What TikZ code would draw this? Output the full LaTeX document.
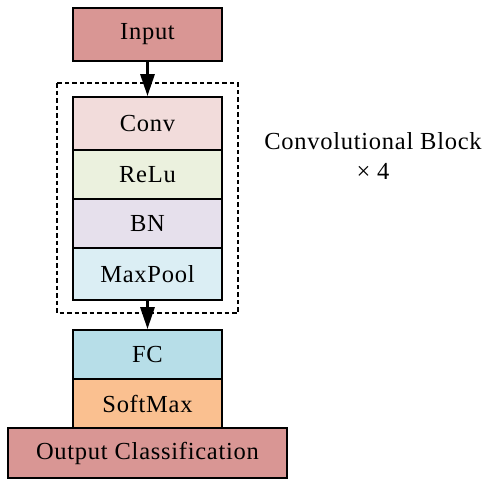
\documentclass[tikz,border=0pt]{standalone}
\usepackage{fontspec}
\setmainfont{Liberation Serif}[LetterSpace=3]
\usetikzlibrary{arrows.meta}
\definecolor{inred}{HTML}{D99694}
\definecolor{convc}{HTML}{F2DCDB}
\definecolor{reluc}{HTML}{EBF1DE}
\definecolor{bnc}{HTML}{E6E0EC}
\definecolor{poolc}{HTML}{DBEEF4}
\definecolor{fcc}{HTML}{B7DEE8}
\definecolor{smc}{HTML}{FAC090}
\tikzset{
  layer/.style={draw=black, line width=1.8pt, inner sep=0pt, minimum width=149pt,
    font=\fontsize{24.5}{28}\selectfont},
  flow/.style={line width=3pt, -{Triangle[width=14pt,length=22pt]}},
  blockframe/.style={draw=black, line width=2pt, dash pattern=on 4.5pt off 3pt}
}
\begin{document}
\begin{tikzpicture}[x=1pt,y=-1pt]
\useasboundingbox (0,0) rectangle (488,480);
% input and output ends
\node[layer, fill=inred, minimum height=53pt] (input) at (147.5,34.5) {Input};
\node[layer, fill=inred, minimum width=279pt, minimum height=50pt] (output) at (147.5,453) {Output Classification};
% repeated convolutional block
\draw[blockframe] (57,83) rectangle (238,313);
\node[layer, fill=convc, minimum height=53pt] (conv) at (147.5,123.5) {Conv};
\node[layer, fill=reluc, minimum height=49pt] (relu) at (147.5,174.5) {ReLu};
\node[layer, fill=bnc, minimum height=49pt] (bn) at (147.5,223.5) {BN};
\node[layer, fill=poolc, minimum height=52pt] (pool) at (147.5,274) {MaxPool};
% classifier head
\node[layer, fill=fcc, minimum height=49pt] (fc) at (147.5,354.5) {FC};
\node[layer, fill=smc, minimum height=49pt] (sm) at (147.5,403.5) {SoftMax};
\node[align=center, font=\fontsize{24.5}{30}\selectfont] (lbl) at (373,156) {Convolutional Block\\× 4};
\draw[flow] (input.south) -- (conv.north);
\draw[flow] (pool.south) -- (fc.north);
\end{tikzpicture}
\end{document}
